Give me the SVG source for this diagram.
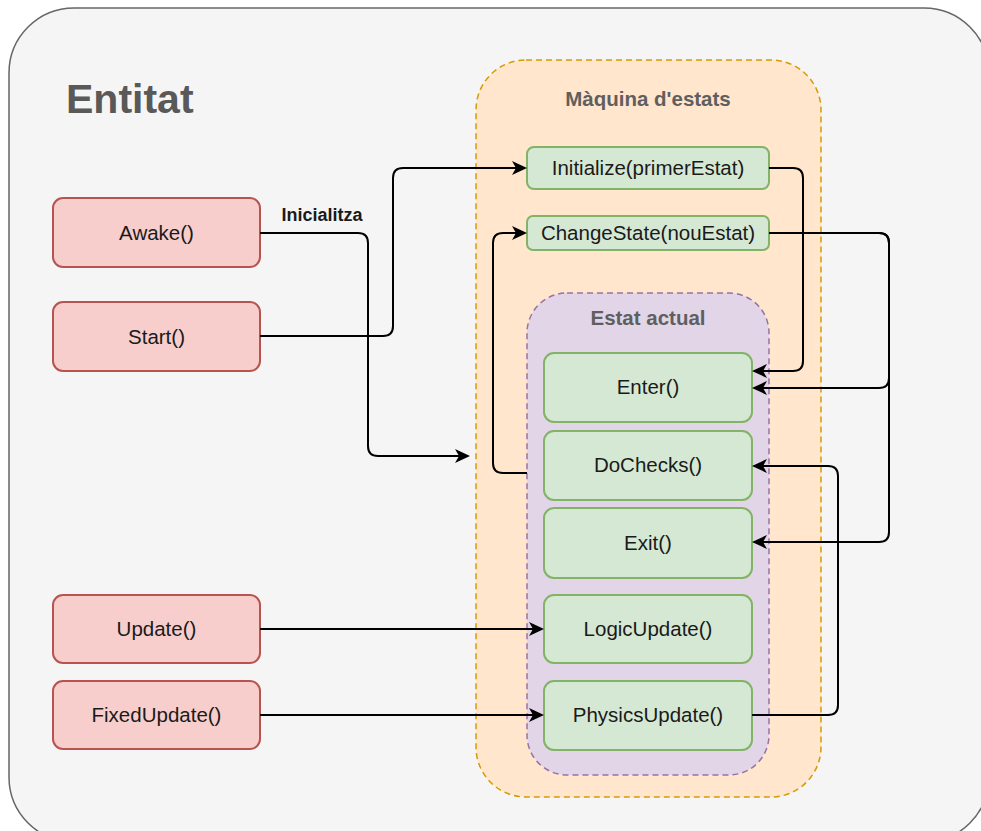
<svg xmlns="http://www.w3.org/2000/svg" width="981" height="831" viewBox="0 0 981 831">
<style>
.t{font-family:"Liberation Sans",Arial,sans-serif;font-size:20.5px;fill:#1a1a1a;text-anchor:middle}
.red{fill:#f8cecc;stroke:#b85450;stroke-width:2}
.grn{fill:#d5e8d4;stroke:#82b366;stroke-width:2}
.ttl{font-family:"Liberation Sans",Arial,sans-serif;font-weight:bold;fill:#5f5f5f;text-anchor:middle}
.c{fill:none;stroke:#000;stroke-width:2;marker-end:url(#ar)}
</style>
<defs>
<marker id="ar" viewBox="0 0 15 14" refX="11" refY="7" markerWidth="15" markerHeight="14" markerUnits="userSpaceOnUse" orient="auto">
<path d="M0,0 L15,7 L0,14 L4,7 Z" fill="#000"/>
</marker>
</defs>
<g id="entitat">
<rect x="9" y="8" width="980" height="834" rx="65" ry="65" fill="#f5f5f5" stroke="#666" stroke-width="1.5"/>
<text x="66" y="113" class="ttl" style="font-size:41px;text-anchor:start;fill:#595959">Entitat</text>
</g>
<g id="maquina">
<rect x="476" y="60" width="345" height="737" rx="50" ry="50" fill="#ffe6cc" stroke="#d79b00" stroke-width="1.5" stroke-dasharray="6,4"/>
<text x="648" y="106" class="ttl" style="font-size:20.5px">Màquina d'estats</text>
</g>
<g id="estat-actual">
<rect x="527" y="293" width="242" height="482" rx="40" ry="40" fill="#e1d5e7" stroke="#9673a6" stroke-width="1.5" stroke-dasharray="6,4"/>
<text x="648" y="325" class="ttl" style="font-size:20.5px">Estat actual</text>
</g>
<g id="awake"><rect class="red" x="53" y="198" width="207" height="69" rx="10"/><text class="t" x="156.5" y="240">Awake()</text></g>
<g id="start"><rect class="red" x="53" y="302" width="207" height="69" rx="10"/><text class="t" x="156.5" y="344">Start()</text></g>
<g id="update"><rect class="red" x="53" y="595" width="207" height="68" rx="10"/><text class="t" x="156.5" y="636">Update()</text></g>
<g id="fixedupdate"><rect class="red" x="53" y="681" width="207" height="68" rx="10"/><text class="t" x="156.5" y="722">FixedUpdate()</text></g>
<g id="initialize"><rect class="grn" x="527" y="147" width="242" height="42" rx="7"/><text class="t" x="648" y="175">Initialize(primerEstat)</text></g>
<g id="changestate"><rect class="grn" x="527" y="216" width="242" height="34" rx="6"/><text class="t" x="648" y="240">ChangeState(nouEstat)</text></g>
<g id="enter"><rect class="grn" x="544" y="353" width="208" height="69" rx="10"/><text class="t" x="648" y="394">Enter()</text></g>
<g id="dochecks"><rect class="grn" x="544" y="431" width="208" height="69" rx="10"/><text class="t" x="648" y="472">DoChecks()</text></g>
<g id="exit"><rect class="grn" x="544" y="508" width="208" height="70" rx="10"/><text class="t" x="648" y="550">Exit()</text></g>
<g id="logicupdate"><rect class="grn" x="544" y="595" width="208" height="68" rx="10"/><text class="t" x="648" y="636">LogicUpdate()</text></g>
<g id="physicsupdate"><rect class="grn" x="544" y="681" width="208" height="69" rx="10"/><text class="t" x="648" y="722">PhysicsUpdate()</text></g>
<g id="connectors">
<path class="c" d="M260,233 H358 Q368,233 368,243 V446 Q368,456 378,456 H466"/>
<text x="322" y="221" class="ttl" style="font-size:18px;fill:#1a1a1a">Inicialitza</text>
<path class="c" d="M260,336 H383 Q393,336 393,326 V178 Q393,168 403,168 H523"/>
<path class="c" d="M527,473 H503 Q493,473 493,463 V243 Q493,233 503,233 H523"/>
<path class="c" d="M769,168 H793 Q803,168 803,178 V361 Q803,371 793,371 H756"/>
<path class="c" d="M769,233 H879 Q889,233 889,243 V378 Q889,388 879,388 H756"/>
<path class="c" d="M769,233 H879 Q889,233 889,243 V532 Q889,542 879,542 H756"/>
<path class="c" d="M752,715 H828 Q838,715 838,705 V476 Q838,466 828,466 H756"/>
<path class="c" d="M260,629 H540"/>
<path class="c" d="M260,715 H540"/>
</g>
</svg>
